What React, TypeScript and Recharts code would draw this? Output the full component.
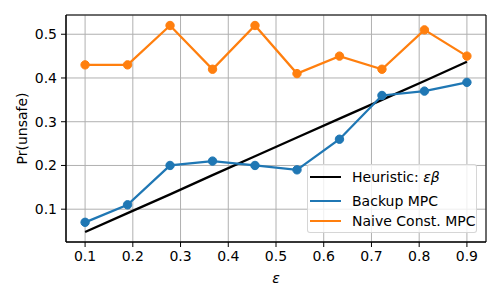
import {
  ComposedChart,
  Line,
  XAxis,
  YAxis,
  CartesianGrid,
  Legend,
  ReferenceArea,
  LegendProps,
} from "recharts";

const EPS = [0.1, 0.189, 0.278, 0.367, 0.456, 0.544, 0.633, 0.722, 0.811, 0.9];
const HEURISTIC = [0.048, 0.091, 0.134, 0.178, 0.221, 0.264, 0.307, 0.35, 0.393, 0.437];
const BACKUP = [0.07, 0.11, 0.2, 0.21, 0.2, 0.19, 0.26, 0.36, 0.37, 0.39];
const NAIVE = [0.43, 0.43, 0.52, 0.42, 0.52, 0.41, 0.45, 0.42, 0.51, 0.45];

const X_TICKS = [0.1, 0.2, 0.3, 0.4, 0.5, 0.6, 0.7, 0.8, 0.9];
const Y_TICKS = [0.1, 0.2, 0.3, 0.4, 0.5];

const FONT = "DejaVu Sans";
const BLUE = "#1f77b4";
const ORANGE = "#ff7f0e";

const data = EPS.map((eps, i) => ({
  eps,
  heuristic: HEURISTIC[i],
  backup: BACKUP[i],
  naive: NAIVE[i],
}));

const LEGEND_ROWS = [
  { key: "heuristic", color: "#000", label: <>Heuristic: <i>εβ</i></>, top: 2 },
  { key: "backup", color: BLUE, label: <>Backup MPC</>, top: 4 },
  { key: "naive", color: ORANGE, label: <>Naive Const. MPC</>, top: 0 },
];

const CustomLegend: LegendProps["content"] = () => (
  <div
    style={{
      width: 170,
      height: 69,
      boxSizing: "border-box",
      border: "1px solid rgba(204,204,204,0.8)",
      borderRadius: 3,
      background: "rgba(255,255,255,0.8)",
      fontFamily: FONT,
      fontSize: 14,
      color: "#000",
    }}
  >
    {LEGEND_ROWS.map((row) => (
      <div
        key={row.key}
        style={{
          display: "flex",
          alignItems: "center",
          height: 20,
          marginTop: row.top,
          paddingLeft: 2,
        }}
      >
        <span
          style={{ width: 31, height: 2, background: row.color, display: "inline-block" }}
        />
        <span style={{ marginLeft: 11, whiteSpace: "nowrap" }}>{row.label}</span>
      </div>
    ))}
  </div>
);

const tickStyle = { fill: "#000", fontSize: 14, fontFamily: FONT };

export default function App() {
  return (
    <div style={{ position: "absolute", left: 0, top: 0, background: "#fff" }}>
      <ComposedChart
        width={500}
        height={300}
        data={data}
        margin={{ top: 15, right: 14, left: 0, bottom: 0 }}
      >
        <CartesianGrid stroke="#b0b0b0" strokeWidth={1} />
        <XAxis
          dataKey="eps"
          type="number"
          domain={[0.06, 0.94]}
          ticks={X_TICKS}
          tickFormatter={(v: number) => v.toFixed(1)}
          tick={tickStyle}
          tickSize={5}
          tickMargin={4}
          height={58}
          stroke="#000"
          allowDataOverflow
          label={{
            value: "ε",
            position: "insideBottom",
            offset: 17,
            style: { fill: "#000", fontSize: 14, fontFamily: FONT, fontStyle: "italic" },
          }}
        />
        <YAxis
          type="number"
          domain={[0.025, 0.544]}
          ticks={Y_TICKS}
          tickFormatter={(v: number) => v.toFixed(1)}
          tick={tickStyle}
          tickSize={5}
          tickMargin={4}
          width={66}
          stroke="#000"
          allowDataOverflow
          label={{
            value: "Pr(unsafe)",
            angle: -90,
            position: "insideLeft",
            offset: 22,
            style: { fill: "#000", fontSize: 14, fontFamily: FONT, textAnchor: "middle" },
          }}
        />
        <ReferenceArea
          x1={0.06}
          x2={0.94}
          y1={0.025}
          y2={0.544}
          fill="none"
          fillOpacity={0}
          stroke="#000"
          strokeWidth={1}
        />
        <Line
          dataKey="heuristic"
          stroke="#000"
          strokeWidth={2.3}
          dot={false}
          isAnimationActive={false}
        />
        <Line
          dataKey="backup"
          stroke={BLUE}
          strokeWidth={2.3}
          dot={{ r: 4.2, fill: BLUE, stroke: BLUE, strokeWidth: 1 }}
          isAnimationActive={false}
        />
        <Line
          dataKey="naive"
          stroke={ORANGE}
          strokeWidth={2.3}
          dot={{ r: 4.2, fill: ORANGE, stroke: ORANGE, strokeWidth: 1 }}
          isAnimationActive={false}
        />
        <Legend
          layout="horizontal"
          verticalAlign="middle"
          align="center"
          content={CustomLegend}
          wrapperStyle={{ left: 307, top: 164, width: 170, height: 69 }}
        />
      </ComposedChart>
    </div>
  );
}
